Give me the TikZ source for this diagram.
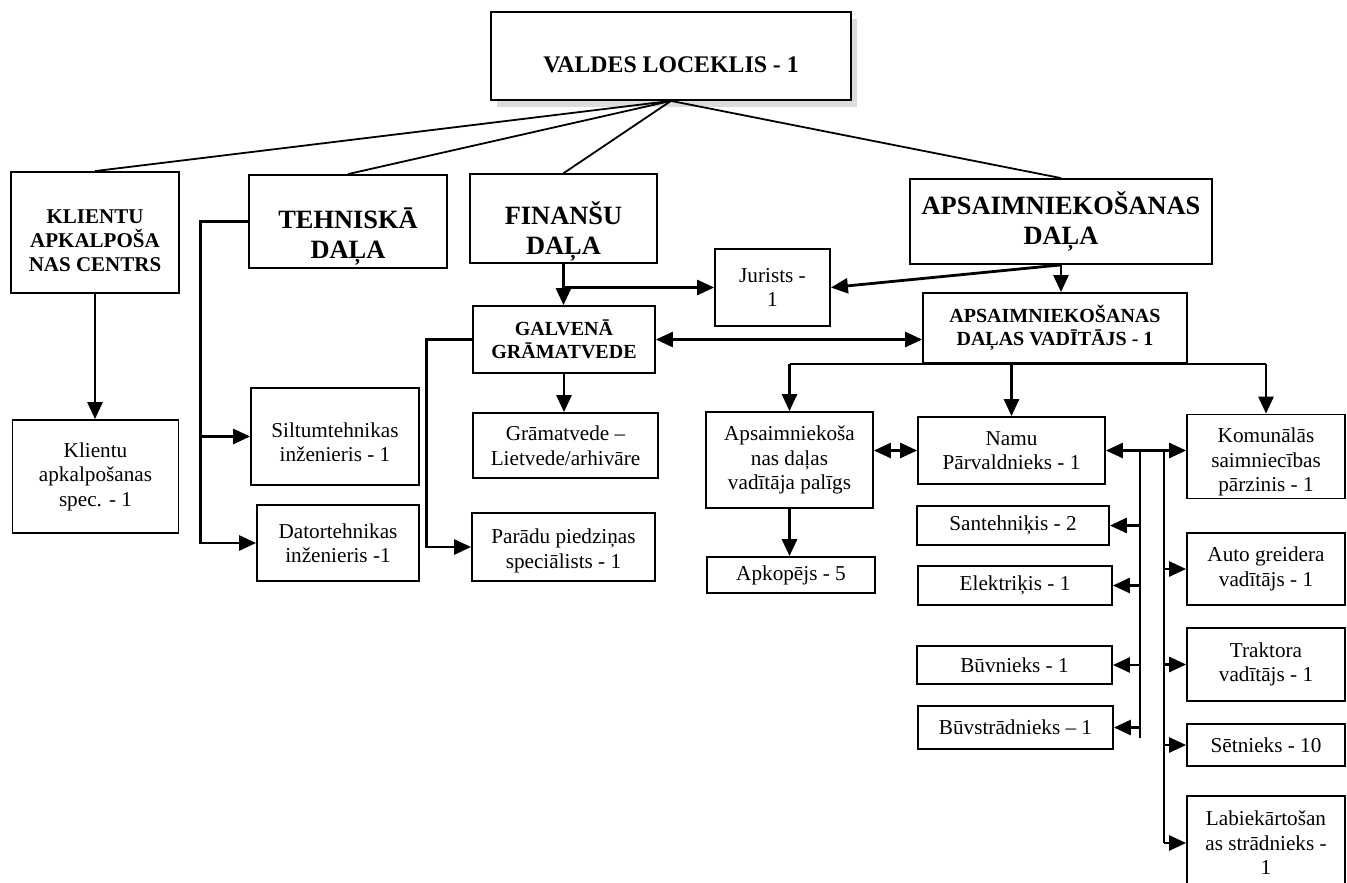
\documentclass[tikz,border=0pt]{standalone}
\usepackage{fontspec}
\setmainfont{Liberation Serif}
\usetikzlibrary{arrows.meta,shadows}
\newcommand\txtreg{\fontsize{21.2}{24.5}\selectfont}
\newcommand\txtbig{\fontsize{26.4}{30}\selectfont\bfseries}
\newcommand\txtmid{\fontsize{20}{23.5}\selectfont\bfseries}
\newcommand\txttitle{\fontsize{23.8}{28}\selectfont\bfseries}
% raise the first line of a box (text sits low in the boxes)
\newcommand\lowtop[1]{\rule{0pt}{#1pt}}

\begin{document}
\begin{tikzpicture}[x=1pt,y=1pt,yscale=-1,xscale=1,
    >={Triangle[length=17pt,width=15pt]},
    frame/.style={draw,line width=1.8pt,fill=white,inner sep=2pt},
    box/.style={frame,align=center,font=\txtreg},
    head/.style={box,font=\txtbig},
    sub/.style={box,font=\txtmid},
    sz/.style 2 args={minimum width=#1pt,minimum height=#2pt},
    link/.style={line width=1.8pt},
    conn/.style={line width=2.8pt},
    bus/.style={line width=2.2pt},
    arr/.style={conn,->}]
    \useasboundingbox (0,0) rectangle (1347,883);
    \clip (0,0) rectangle (1347,883);

    % Text Node
    \node[frame,sz={360}{88},font=\txttitle,text height=34pt,text depth=0pt,
      drop shadow={shadow xshift=6pt,shadow yshift=-7pt,fill=gray!55}] (valdes) at (671,56) {VALDES LOCEKLIS - 1};
    % Text Node
    \node[sub,sz={168}{121},font=\fontsize{21}{24}\selectfont\bfseries] (klientu) at (95,232.5) {\lowtop{30}KLIENTU\\APKALPOŠA\\NAS CENTRS};
    % Text Node
    \node[head,sz={198}{93}] (tehn) at (348,221.5) {\lowtop{50}TEHNISKĀ\\DAĻA};
    % Text Node
    \node[head,sz={187}{87}] (fin) at (563.5,218.5) {\lowtop{48}FINANŠU\\DAĻA};
    % Text Node
    \node[head,sz={302}{85}] (aps) at (1061,221.5) {APSAIMNIEKOŠANAS\\DAĻA};
    % Text Node
    \node[box,sz={115}{77}] (jur) at (772.5,287.5) {Jurists -\\1};
    % Text Node
    \node[sub,sz={182}{67}] (galv) at (564,339.5) {GALVENĀ\\GRĀMATVEDE};
    % Text Node
    \node[sub,sz={264}{70}] (vad) at (1055,328) {APSAIMNIEKOŠANAS\\DAĻAS VADĪTĀJS - 1};

    % Text Node
    \node[box,sz={166}{113}] (kspec) at (95.5,476.5) {Klientu\\apkalpošanas\\spec. - 1};
    % Text Node
    \node[box,sz={168}{97}] (silt) at (335,436.5) {\lowtop{26.5}Siltumtehnikas\\inženieris - 1};
    % Text Node
    \node[box,sz={162}{76}] (dator) at (338,543) {Datortehnikas\\inženieris -1};
    % Text Node
    \node[box,sz={185}{65}] (gram) at (565.5,445.5) {Grāmatvede –\\Lietvede/arhivāre};
    % Text Node
    \node[box,sz={183}{68}] (par) at (563.5,547) {\lowtop{22.5}Parādu piedziņas\\speciālists - 1};
    % Text Node
    \node[box,sz={167}{96}] (apsp) at (789.5,460) {Apsaimniekoša\\nas daļas\\vadītāja palīgs};
    % Text Node
    \node[box,sz={168}{36}] (apkop) at (791,575) {Apkopējs - 5};
    % Text Node
    \node[box,sz={187}{67}] (namu) at (1011.5,450.5) {Namu\\Pārvaldnieks - 1};
    % Text Node
    \node[box,sz={158}{83}] (kom) at (1266,456.5) {\lowtop{26.5}Komunālās\\saimniecības\\pārzinis - 1};

    % Text Node
    \node[box,sz={192}{39}] (sant) at (1013,525.5) {Santehniķis - 2};
    % Text Node
    \node[box,sz={194}{39}] (elek) at (1015,585.5) {Elektriķis - 1};
    % Text Node
    \node[box,sz={195}{38}] (buvn) at (1014.5,665) {Būvnieks - 1};
    % Text Node
    \node[box,sz={195}{43}] (buvs) at (1015.5,727.5) {Būvstrādnieks – 1};
    % Text Node
    \node[box,sz={158}{72}] (auto) at (1266,569) {Auto greidera\\vadītājs - 1};
    % Text Node
    \node[box,sz={158}{73}] (trak) at (1266,664.5) {Traktora\\vadītājs - 1};
    % Text Node
    \node[box,sz={158}{42}] (setn) at (1266,745) {Sētnieks - 10};
    % Text Node
    \node[box,sz={158}{94}] (labi) at (1266,843) {Labiekārtošan\\as strādnieks -\\1};

    % Connection
    \draw[link] (valdes.south) -- (klientu.north);
    \draw[link] (valdes.south) -- (tehn.north);
    \draw[link] (valdes.south) -- (fin.north);
    \draw[link] (valdes.south) -- (aps.north);
    % Connection
    \draw[arr] (klientu.south) -- (klientu.south |- kspec.north);
    % Connection
    \path (tehn.west) ++(-48,0) coordinate (tbus);
    \draw[arr] (tehn.west) -- (tbus) |- (dator.west);
    \draw[arr] (tbus |- silt.west) -- (silt.west);
    % Connection
    \draw[arr] (fin.south) -- (fin.south |- galv.north);
    \draw[arr] (fin.south |- jur.west) -- (jur.west);
    \draw[arr] (aps.south) -- (jur.east);
    \draw[arr] (aps.south) -- (aps.south |- vad.north);
    % Connection
    \draw[conn,<->] (galv.east) -- (galv.east -| vad.west);
    \draw[arr] (galv.west) -- ++(-46,0) |- (par.west);
    \draw[arr] (galv.south) -- (galv.south |- gram.north);
    % Connection
    \draw[conn] (apsp.north |- vad.south) -- (kom.north |- vad.south);
    \draw[arr] (apsp.north |- vad.south) -- (apsp.north);
    \draw[arr] (namu.north |- vad.south) -- (namu.north);
    \draw[arr] (kom.north |- vad.south) -- (kom.north);
    \draw[arr] (apsp.south) -- (apsp.south |- apkop.north);
    \draw[conn,<->] (apsp.east |- namu.west) -- (namu.west);
    \draw[conn,<->] (namu.east) -- (namu.east -| kom.west);
    % Connection
    \coordinate (lbus) at (1140,450.5);
    \coordinate (rbus) at (1164,450.5);
    \draw[bus] (lbus) -- ++(0,287);
    \draw[bus] (rbus) -- ++(0,392);
    \draw[arr] (lbus |- sant.east) -- (sant.east);
    \draw[arr] (lbus |- elek.east) -- (elek.east);
    \draw[arr] (lbus |- buvn.east) -- (buvn.east);
    \draw[arr] (lbus |- buvs.east) -- (buvs.east);
    \draw[arr] (rbus |- auto.west) -- (auto.west);
    \draw[arr] (rbus |- trak.west) -- (trak.west);
    \draw[arr] (rbus |- setn.west) -- (setn.west);
    \draw[arr] (rbus |- labi.west) -- (labi.west);

\end{tikzpicture}
\end{document}
